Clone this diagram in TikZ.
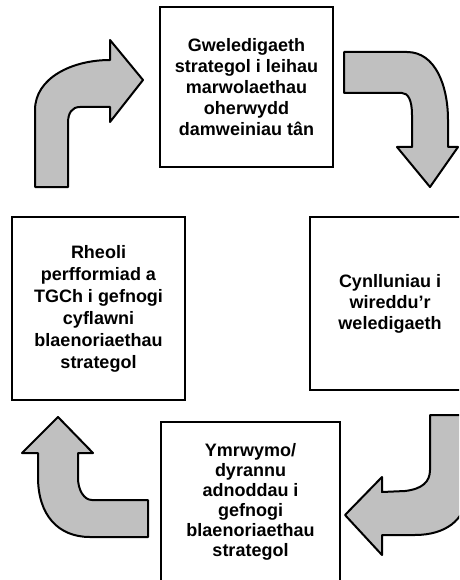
\documentclass[tikz,border=0pt]{standalone}
\usepackage{fontspec}
\setmainfont{Liberation Sans}
\usepackage{xcolor}
\definecolor{arrowgray}{RGB}{192,192,192}
\tikzset{goalbox/.style = {draw, line width=1.5pt, align=center, inner sep=0pt,
    font=\fontsize{18}{21}\selectfont\bfseries}}
\tikzset{bentarrow/.style = {draw, fill=arrowgray, line width=2pt, line join=round}}

\begin{document}
\begin{tikzpicture}[x=1pt, y=-1pt]
\useasboundingbox (0,0) rectangle (459,580);
\clip (0,0) rectangle (459,580);
\node[goalbox, minimum width=173pt, minimum height=160pt] (vision) at (246.5,87)
  {Gweledigaeth\\strategol i leihau\\marwolaethau\\oherwydd\\damweiniau tân};
\node[goalbox, minimum width=160pt, minimum height=173pt] (plan) at (390,303.5)
  {Cynlluniau i\\wireddu’r\\weledigaeth};
\node[goalbox, minimum width=179pt, minimum height=160pt,
  font=\fontsize{18}{20}\selectfont\bfseries] (resource) at (250.5,502)
  {Ymrwymo/\\dyrannu\\adnoddau i\\gefnogi\\blaenoriaethau\\strategol};
\node[goalbox, minimum width=173pt, minimum height=183pt,
  font=\fontsize{18}{22}\selectfont\bfseries] (perform) at (98.5,308.5)
  {Rheoli\\perfformiad a\\TGCh i gefnogi\\cyflawni\\blaenoriaethau\\strategol};
\draw[bentarrow] (35,187) -- (35,110) .. controls (35,78) and (72,60) .. (110,60)
  -- (110,40) -- (143,80) -- (110,122) -- (110,107) -- (80,107)
  .. controls (72,107) and (68,113) .. (68,123) -- (68,187) -- cycle;
\draw[bentarrow] (344,52) -- (407,52) .. controls (435,52) and (448,85) .. (448,120)
  -- (448,147) -- (458,147) -- (430,187) -- (397,147) -- (412,147) -- (412,115)
  .. controls (412,100) and (408,93) .. (402,93) -- (344,93) -- cycle;
\draw[bentarrow] (430,415) -- (466,415) -- (466,495) .. controls (466,520) and (445,535) .. (415,535)
  -- (382,535) -- (382,555) -- (345,515) -- (382,477) -- (382,492) -- (405,491)
  .. controls (422,489) and (430,482) .. (430,470) -- cycle;
\draw[bentarrow] (58,417) -- (93,453) -- (78,453) -- (78,478)
  .. controls (78,490) and (84,500) .. (92,500) -- (148,500) -- (148,537) -- (90,537)
  .. controls (58,537) and (38,515) .. (38,477) -- (38,453) -- (22,453) -- cycle;
\end{tikzpicture}
\end{document}
